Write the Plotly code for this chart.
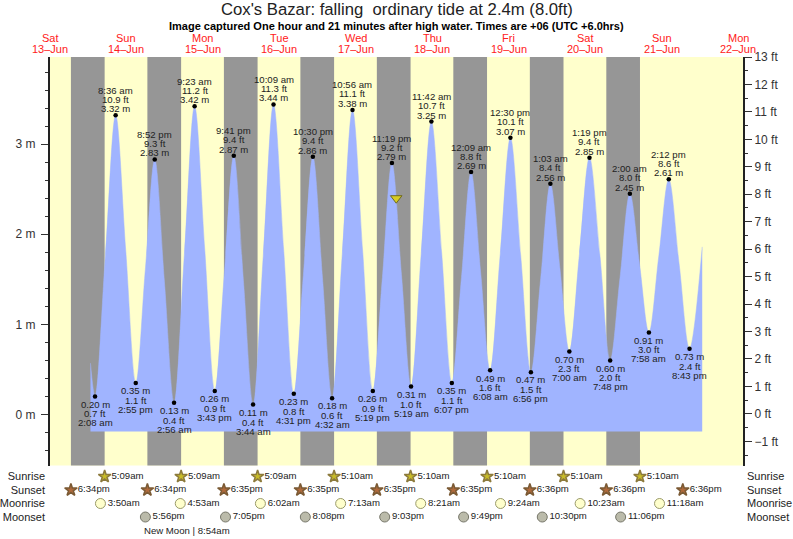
from datetime import datetime
import plotly.graph_objects as go

FONT = "Liberation Sans"

# ---- data (times are local, +06) ----
high_low_times = [
    "06-14 02:08", "06-14 08:36", "06-14 14:55", "06-14 20:52",
    "06-15 02:56", "06-15 09:23", "06-15 15:43", "06-15 21:41",
    "06-16 03:44", "06-16 10:09", "06-16 16:31", "06-16 22:30",
    "06-17 04:32", "06-17 10:56", "06-17 17:19", "06-17 23:19",
    "06-18 05:19", "06-18 11:42", "06-18 18:07",
    "06-19 00:09", "06-19 06:08", "06-19 12:30", "06-19 18:56",
    "06-20 01:03", "06-20 07:00", "06-20 13:19", "06-20 19:48",
    "06-21 02:00", "06-21 07:58", "06-21 14:12", "06-21 20:43",
]
high_low_m = [
    0.20, 3.32, 0.35, 2.83, 0.13, 3.42, 0.26, 2.87,
    0.11, 3.44, 0.23, 2.86, 0.18, 3.38, 0.26, 2.79,
    0.31, 3.25, 0.35, 2.69, 0.49, 3.07, 0.47, 2.56,
    0.70, 2.85, 0.60, 2.45, 0.91, 2.61, 0.73,
]
high_low_ft = [
    "0.7", "10.9", "1.1", "9.3", "0.4", "11.2", "0.9", "9.4",
    "0.4", "11.3", "0.8", "9.4", "0.6", "11.1", "0.9", "9.2",
    "1.0", "10.7", "1.1", "8.8", "1.6", "10.1", "1.5", "8.4",
    "2.3", "9.4", "2.0", "8.0", "3.0", "8.6", "2.4",
]
between_times = [
    "06-14 00:42", "06-14 05:22", "06-14 11:45", "06-14 17:53", "06-14 23:54",
    "06-15 06:10", "06-15 12:33", "06-15 18:42", "06-16 00:42",
    "06-16 06:57", "06-16 13:20", "06-16 19:30", "06-17 01:31",
    "06-17 07:44", "06-17 14:07", "06-17 20:19", "06-18 02:19",
    "06-18 08:30", "06-18 14:55", "06-18 21:08", "06-19 03:08",
    "06-19 09:19", "06-19 15:43", "06-19 22:00", "06-20 04:01",
    "06-20 10:10", "06-20 16:33", "06-20 22:54", "06-21 04:59",
    "06-21 11:05", "06-21 17:27", "06-22 00:42",
]
between_m = [
    0.57, 1.76, 1.83, 1.59, 1.48,
    1.77, 1.84, 1.56, 1.49,
    1.77, 1.83, 1.54, 1.52,
    1.78, 1.82, 1.52, 1.55,
    1.78, 1.80, 1.52, 1.59,
    1.78, 1.77, 1.51, 1.63,
    1.78, 1.78, 1.52, 1.68,
    1.76, 1.67, 1.86,
]
tide_floor_m = -0.19

day_names = ["Sat", "Sun", "Mon", "Tue", "Wed", "Thu", "Fri", "Sat", "Sun", "Mon"]
day_dates = ["13", "14", "15", "16", "17", "18", "19", "20", "21", "22"]

sunrise_times = ["06-14 05:09", "06-15 05:09", "06-16 05:09", "06-17 05:10",
                 "06-18 05:10", "06-19 05:10", "06-20 05:10", "06-21 05:10"]
sunset_times = ["06-13 18:34", "06-14 18:34", "06-15 18:35", "06-16 18:35", "06-17 18:35",
                "06-18 18:35", "06-19 18:36", "06-20 18:36", "06-21 18:36"]
moonrise_times = ["06-14 03:50", "06-15 04:53", "06-16 06:02", "06-17 07:13",
                  "06-18 08:21", "06-19 09:24", "06-20 10:23", "06-21 11:18"]
moonset_times = ["06-14 17:56", "06-15 19:05", "06-16 20:08", "06-17 21:03",
                 "06-18 21:49", "06-19 22:30", "06-20 23:06"]
new_moon_time = "06-15 08:54"
now_time = "06-18 00:40"
now_m = 2.4

row_names = ["Sunrise", "Sunset", "Moonrise", "Moonset"]
row_levels = [4, 3, 2, 1]

TITLE = "Cox's Bazar: falling  ordinary tide at 2.4m (8.0ft)"
SUBTITLE = "Image captured One hour and 21 minutes after high water. Times are +06 (UTC +6.0hrs)"

# ---- helpers ----
def full(t):
    return "2020-" + t + ":00"

def clock(t, spaced):
    d = datetime.strptime("2020-" + t, "%Y-%m-%d %H:%M")
    hour = d.hour % 12 or 12
    ap = "am" if d.hour < 12 else "pm"
    return f"{hour}:{d.minute:02d}{' ' if spaced else ''}{ap}"

W, H = 793, 539
TOP, LEFT, RIGHT = 57, 50, 50
PLOT_BOTTOM_PX = 465.5
paper_h = H - TOP
main_low = (H - PLOT_BOTTOM_PX) / paper_h
lower_top = (H - 466) / paper_h

YELLOW = "#FFFFCC"
GRAY = "#969696"
BLUE = "#A0B4FF"
INK = "#222222"

x_start = "2020-06-13 12:00:00"
x_end = "2020-06-22 13:30:00"

fig = go.Figure()

# tide curve, filled down to its floor
merged = sorted(zip(high_low_times + between_times, high_low_m + between_m))
curve_x = [full(t) for t, _ in merged]
curve_y = [v for _, v in merged]
fig.add_trace(go.Scatter(x=[curve_x[0], curve_x[-1]], y=[tide_floor_m, tide_floor_m],
                         mode="lines", line=dict(width=0, color=BLUE), hoverinfo="skip"))
fig.add_trace(go.Scatter(x=curve_x, y=curve_y, mode="lines", fill="tonexty", fillcolor=BLUE,
                         line=dict(color=BLUE, width=0.5, shape="spline", smoothing=1.0),
                         hoverinfo="skip"))

# high/low dots
fig.add_trace(go.Scatter(x=[full(t) for t in high_low_times], y=high_low_m, mode="markers",
                         marker=dict(color="black", size=4.5), hoverinfo="skip"))
# current level marker
fig.add_trace(go.Scatter(x=[full(now_time)], y=[now_m], mode="markers",
                         marker=dict(symbol="triangle-down", color="#D8CC22", size=10,
                                     line=dict(color="#6E6A20", width=1)),
                         hoverinfo="skip"))
# feet scale
fig.add_trace(go.Scatter(x=[full(t) for t in high_low_times], y=[float(v) for v in high_low_ft],
                         yaxis="y2", mode="markers", marker=dict(opacity=0), hoverinfo="skip"))

# almanac rows
def row(times, level, symbol, size, fill, edge, edge_w):
    fig.add_trace(go.Scatter(
        x=[full(t) for t in times], y=[level] * len(times), yaxis="y3",
        mode="markers+text", text=[clock(t, False) for t in times],
        textposition="middle right", textfont=dict(family=FONT, size=9.6, color=INK),
        marker=dict(symbol=symbol, size=size, color=fill, line=dict(color=edge, width=edge_w)),
        cliponaxis=False, hoverinfo="skip"))

row(sunrise_times, row_levels[0], "star", 9.4, "#C8BC28", "#8C7A3C", 1.5)
row(sunset_times, row_levels[1], "star", 9.4, "#B06A3C", "#7A5A34", 1.5)
row(moonrise_times, row_levels[2], "circle", 10, "#FFFFCC", "#9A9A6A", 1)
row(moonset_times, row_levels[3], "circle", 10, "#BBBBAA", "#77776A", 1)
fig.add_trace(go.Scatter(x=[full(x_start[5:16])], y=[0], yaxis="y4", mode="markers",
                         marker=dict(opacity=0), hoverinfo="skip"))

# day / night bands
shapes = [dict(type="rect", xref="x domain", yref="y domain", x0=0, x1=1, y0=0, y1=1,
               fillcolor=YELLOW, line_width=0, layer="below")]
for dusk, dawn in zip(sunset_times, sunrise_times):
    shapes.append(dict(type="rect", xref="x", yref="y domain", x0=full(dusk), x1=full(dawn),
                       y0=0, y1=1, fillcolor=GRAY, line_width=0, layer="below"))

annotations = []
def note(text, x, y, xref="x", yref="y", size=9.6, color=INK, xanchor="center",
         yanchor="middle", yshift=0, xshift=0, bold=False):
    annotations.append(dict(text=f"<b>{text}</b>" if bold else text, x=x, y=y, xref=xref, yref=yref,
                            showarrow=False, xanchor=xanchor, yanchor=yanchor, yshift=yshift,
                            xshift=xshift, borderpad=0, borderwidth=0,
                            font=dict(family=FONT, size=size, color=color)))

# labels of highs and lows: lowest-first series alternates low / high
for i, (t, m, ft) in enumerate(zip(high_low_times, high_low_m, high_low_ft)):
    lines = [f"{m:.2f} m", f"{ft} ft", clock(t, True)]
    if i % 2:
        for text, off in zip(lines, (6.5, 16, 25)):
            note(text, full(t), m, yshift=off)
    else:
        for text, off in zip(lines, (7.7, 17.5, 26.5)):
            note(text, full(t), m, yshift=-off)

# day headers
for name, date in zip(day_names, day_dates):
    noon = f"2020-06-{date} 12:00:00"
    note(name, noon, 1, yref="y domain", size=11, color="#FF2020", yshift=19.5)
    note(f"{date}\u2013Jun", noon, 1, yref="y domain", size=11, color="#FF2020", yshift=8)

# titles
title_y = lambda px: 1 + (TOP - px) / paper_h
note(TITLE, 0.5, title_y(10), xref="paper", yref="paper", size=16.7, color=INK)
note(SUBTITLE, 0.5, title_y(25.5), xref="paper", yref="paper", size=11, color="black", bold=True)

# new moon line
note("New Moon |", full(new_moon_time), 0, yref="y3", size=9.6, xanchor="right", xshift=1.5)
note(" 8:54am", full(new_moon_time), 0, yref="y3", size=9.6, xanchor="left", xshift=1.5)

fig.update_layout(
    width=W, height=H, autosize=False, showlegend=False,
    paper_bgcolor="white", plot_bgcolor="rgba(0,0,0,0)",
    margin=dict(l=LEFT, r=RIGHT, t=TOP, b=0, pad=0),
    font=dict(family=FONT, color=INK),
    shapes=shapes, annotations=annotations,
    xaxis=dict(type="date", range=[x_start, x_end], anchor="y", side="bottom",
               showticklabels=False, ticks="", showgrid=False, zeroline=False, showline=False),
    yaxis=dict(domain=[main_low, 1], range=[-0.566, 3.967], tick0=0, dtick=1, ticksuffix=" m",
               ticks="outside", ticklen=7, tickwidth=1, tickcolor="#333", showgrid=False,
               zeroline=False, showline=True, linewidth=2, linecolor="#222", ticklabelstandoff=3,
               tickfont=dict(family=FONT, size=12, color="#333"),
               minor=dict(dtick=0.2, tick0=0, ticks="outside", ticklen=3, tickwidth=1, tickcolor="#333",
                          showgrid=False),
               anchor="x"),
    yaxis2=dict(overlaying="y", side="right", range=[-1.88, 13.0], tick0=0, dtick=1, ticksuffix=" ft",
                ticks="outside", ticklen=7, tickwidth=1, tickcolor="#333", showgrid=False,
                zeroline=False, showline=True, linewidth=2, linecolor="#222",
                tickfont=dict(family=FONT, size=12, color="#333"),
                minor=dict(dtick=0.5, tick0=0, ticks="outside", ticklen=3, tickwidth=1, tickcolor="#333",
                           showgrid=False),
                anchor="x"),
    yaxis3=dict(domain=[0, lower_top], range=[-0.63, 4.78], anchor="x", tickvals=row_levels,
                ticktext=row_names, ticks="", showgrid=False, zeroline=False, showline=False,
                ticklabelstandoff=4,
                tickfont=dict(family=FONT, size=11, color=INK)),
    yaxis4=dict(overlaying="y3", side="right", range=[-0.63, 4.78], anchor="x", tickvals=row_levels,
                ticktext=row_names, ticks="", showgrid=False, zeroline=False, showline=False,
                ticklabelstandoff=3,
                tickfont=dict(family=FONT, size=11, color=INK)),
)

fig.write_html("out.html", config=dict(displayModeBar=False, staticPlot=True),
               post_script="document.body.style.margin='0';")
